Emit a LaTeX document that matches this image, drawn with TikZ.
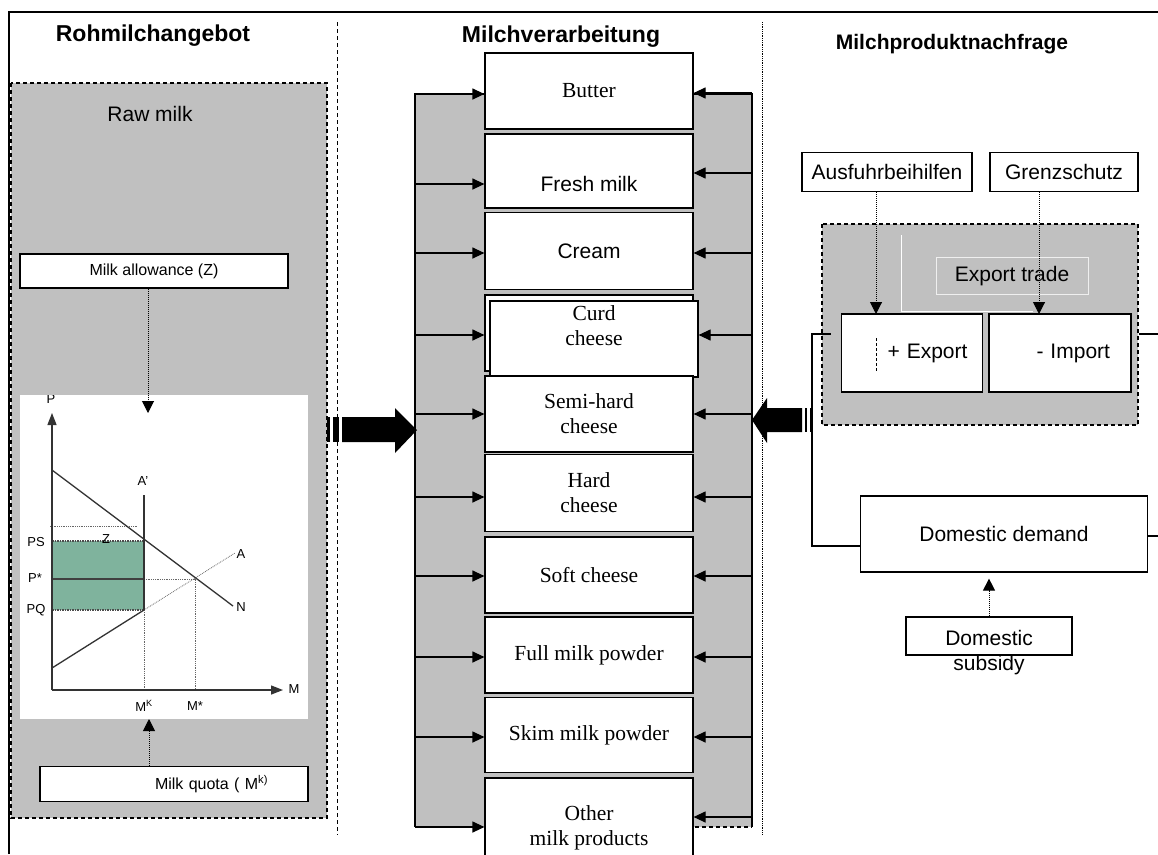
\documentclass[tikz,border=0pt]{standalone}
\usepackage{fontspec}
\setmainfont{Liberation Serif}
\setsansfont{Liberation Sans}
\usetikzlibrary{arrows.meta}

\definecolor{panelgray}{RGB}{192,192,192}
\definecolor{quotagreen}{RGB}{127,179,157}

\tikzset{
  head/.style={font=\sffamily\bfseries\fontsize{23}{27}\selectfont},
  lab/.style={font=\sffamily\fontsize{21}{25}\selectfont},
  small/.style={font=\sffamily\fontsize{16}{19}\selectfont},
  axlab/.style={font=\sffamily\fontsize{13}{15}\selectfont, inner sep=0pt},
  box/.style={draw, line width=1.2pt, fill=white, align=center},
  prod/.style={box, minimum width=208pt, minimum height=76pt,
    font=\rmfamily\fontsize{21.5}{25}\selectfont},
  flow/.style={line width=1.2pt, -{Triangle[length=12pt,width=11pt]}},
  hint/.style={densely dotted, line width=1pt, -{Triangle[length=12pt,width=12pt]}},
  panel/.style={fill=panelgray, line width=1.3pt, dash pattern=on 4pt off 3pt},
  guide/.style={densely dotted, line width=0.8pt, black!60},
  curve/.style={line width=1.3pt, black!80},
}

\begin{document}
\begin{tikzpicture}[x=1pt, y=-1pt]
\useasboundingbox (0,0) rectangle (1158,854);

% frame and column separators
\draw[line width=2pt] (9,854) -- (9,12) -- (1158,12);
\draw[line width=1pt, dash pattern=on 4pt off 3pt] (337,22) -- (337,835);
\draw[line width=0.8pt, densely dotted] (762,22) -- (762,835);

% column headings
\node[head] (rohHead) at (153,36) {Rohmilchangebot};
\node[head] (verHead) at (561,37) {Milchverarbeitung};
\node[head, font=\sffamily\bfseries\fontsize{21}{25}\selectfont] (nachHead) at (952,44) {Milchproduktnachfrage};

% raw milk supply
\draw[panel] (11,83) rectangle (327,818);
\node[lab] (rawmilk) at (150,114) {Raw milk};
\node[box, small, minimum width=268pt, minimum height=34pt] (allow) at (154,271) {Milk allowance (Z)};
\node[box, small, text width=188pt, align=right, inner xsep=40pt, minimum height=35pt] (quota) at (174,784) {Milk quota ( M\textsuperscript{k)}};

% quota diagram
\fill[white] (20,395) rectangle (308,719);
\begin{scope}
  \clip (20,395) rectangle (308,719);
  \fill[quotagreen] (52,541) rectangle (144,610);
  \draw[guide] (50,526) -- (138,526);
  \draw[line width=1.5pt, black!70, densely dotted] (52,541) -- (144,541);
  \draw[line width=1.5pt, black!70, densely dotted] (52,610) -- (144,610);
  \draw[line width=1.2pt, black!75] (52,579) -- (144,579);
  \draw[guide] (144,579) -- (195,579) -- (195,690);
  \draw[guide] (144,610) -- (144,690);
  \draw[guide] (144,610) -- (235,553);
  \draw[curve] (52,668) -- (144,610);
  \draw[curve] (144,495) -- (144,610);
  \draw[curve] (52,470) -- (233,606);
  \draw[curve, -{Triangle[length=12pt,width=9pt]}] (52,690) -- (52,413);
  \draw[curve, -{Triangle[length=12pt,width=9pt]}] (52,690) -- (283,690);
  \node[axlab] (pAx) at (51,399) {P};
  \node[axlab] (mAx) at (294,689) {M};
  \node[axlab] (aDash) at (143,481) {A'};
  \node[axlab] (aLab) at (241,554) {A};
  \node[axlab] (nLab) at (241,607) {N};
  \node[axlab] (psLab) at (36,542) {PS};
  \node[axlab] (pstarLab) at (35,578) {P*};
  \node[axlab] (pqLab) at (36,610) {PQ};
  \node[axlab] (zLab) at (106,539) {Z};
  \node[axlab] (mkLab) at (144,706) {M\textsuperscript{K}};
  \node[axlab] (mstarLab) at (195,706) {M*};
\end{scope}
\coordinate (zTip) at (148,413);
\coordinate (kTip) at (149,719);
\draw[hint] (allow.south -| zTip) -- (zTip);
\draw[hint] (quota.north -| kTip) -- (kTip);

% processing
\coordinate (procW) at (415,94);
\coordinate (procE) at (752,94);
\fill[panelgray] (procW) rectangle (752,827);
\draw[line width=2.8pt] (415,827) -- (procW) -- (procE) -- (752,827);
\draw[line width=2pt, dash pattern=on 4pt off 3pt] (415,827) -- (752,827);

\node[prod] (butter) at (589,91) {Butter};
\node[prod, lab, minimum height=74pt, text height=41pt] (fresh) at (589,171) {Fresh milk};
\node[prod, lab, minimum height=77pt] (cream) at (589,251) {Cream};
\node[prod] (curdback) at (589,333) {};
\node[prod, text height=22pt, text depth=10pt] (curd) at (594,339) {Curd\\cheese};
\node[prod] (semi) at (589,414) {Semi-hard\\cheese};
\node[prod, minimum height=77pt] (hard) at (589,493) {Hard\\cheese};
\node[prod] (soft) at (589,575) {Soft cheese};
\node[prod] (full) at (589,655) {Full milk powder};
\node[prod, minimum height=75pt] (skim) at (589,735) {Skim milk powder};
\node[prod, minimum height=100pt] (other) at (589,828) {Other\\milk products};

\foreach \n/\dl/\dr in {butter/-3/-2, fresh/-13/-2, cream/-2/-2, semi/0/0,
    hard/-4/-4, soft/-1/-1, full/-2/-2, skim/-2/-2, other/1/11}{
  \draw[flow] ([yshift=\dl pt]procW |- \n.west) -- ([yshift=\dl pt]\n.west);
  \draw[flow] ([yshift=\dr pt]procE |- \n.east) -- ([yshift=\dr pt]\n.east);
}
\draw[flow] ([yshift=-2pt]procW |- curdback.west) -- ([yshift=-2pt]curdback.west);
\draw[flow] ([yshift=4pt]procE |- curd.east) -- ([yshift=4pt]curd.east);

% big arrows into processing
\fill (342,417) -- (395,417) -- (395,408) -- (417,430) -- (395,453) -- (395,442) -- (342,442) -- cycle;
\fill (327,417) rectangle (330,442);
\fill (333,417) rectangle (339,442);
\fill (802,408) -- (767,408) -- (767,398) -- (752,420) -- (767,443) -- (767,432) -- (802,432) -- cycle;
\fill (805,408) rectangle (807,432);
\fill (810,408) rectangle (812,432);

% demand side
\node[box, lab, minimum width=170pt, minimum height=39pt] (ausfuhr) at (887,172) {Ausfuhrbeihilfen};
\node[box, lab, minimum width=148pt, minimum height=39pt] (grenz) at (1064,172) {Grenzschutz};
\draw[panel] (822,224) rectangle (1138,425);
\draw[white, line width=0.8pt] (901,235) -- (901,311) -- (1033,311);
\node[lab, draw=white!75!panelgray, line width=0.6pt, minimum width=152pt, minimum height=37pt] (trade) at (1012,276) {Export trade};
\node[box, lab, minimum height=78pt, text width=111pt, inner xsep=15pt, align=right] (export) at (912,353) {+ Export};
\node[box, lab, minimum height=78pt, text width=100pt, inner xsep=21pt, align=right] (import) at (1060,353) {- Import};
\draw[line width=0.8pt, densely dashed] (876,338) -- (876,372);

\coordinate (expTip) at (876,314);
\coordinate (impTip) at (1039,314);
\draw[hint] (ausfuhr.south -| expTip) -- (expTip);
\draw[hint] (grenz.south -| impTip) -- (impTip);

\node[box, lab, minimum width=287pt, minimum height=76pt] (demand) at (1004,534) {Domestic demand};
\node[box, lab, minimum width=166pt, minimum height=38pt, inner ysep=0pt, text height=20pt, text depth=2pt] (subsidy) at (989,636) {\begin{tabular}[t]{@{}c@{}}Domestic\\subsidy\end{tabular}};
\draw[hint] (subsidy.north) -- ([yshift=-6pt]demand.south -| subsidy.north);

\coordinate (tap) at (812,334);
\coordinate (edgeE) at (1158,334);
\draw[line width=1.2pt] ([xshift=-10pt]export.west |- tap) -- (tap) |- ([yshift=-12pt]demand.west);
\draw[line width=1.2pt] ([xshift=7pt]import.east |- tap) -- (edgeE);
\draw[line width=1.2pt] ([yshift=-2pt]demand.east) -- ([yshift=-2pt]edgeE |- demand.east);
\end{tikzpicture}
\end{document}
